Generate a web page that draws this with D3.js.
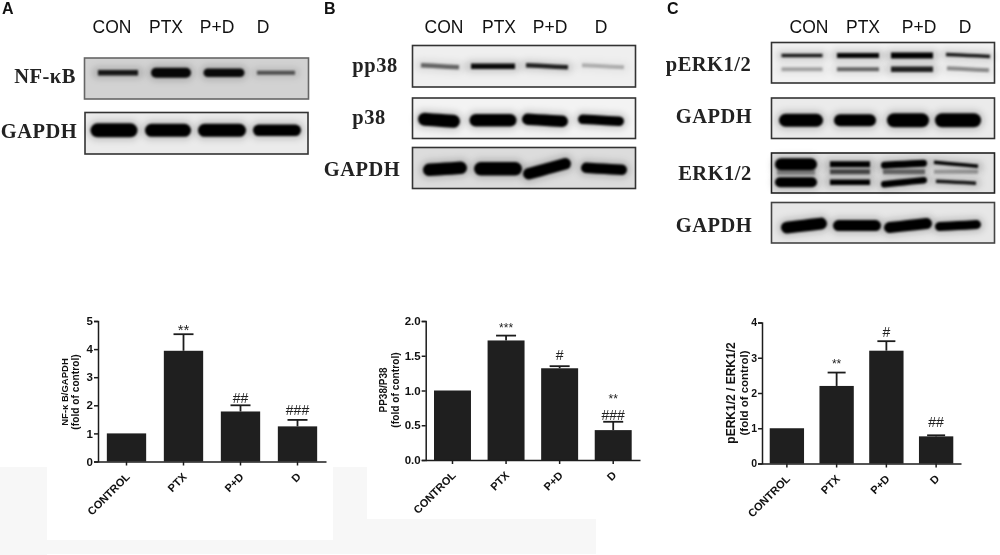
<!DOCTYPE html>
<html><head><meta charset="utf-8">
<style>html,body{margin:0;padding:0;background:#fff}svg{display:block;filter:blur(0.3px)}</style>
<script src="https://cdn.jsdelivr.net/npm/d3@7/dist/d3.min.js"></script>
</head><body><svg id="c" width="1000" height="555"></svg>
<script>
// ---- bar chart data ----
const categories = ["CONTROL","PTX","P+D","D"];
const nfkbValues = [1,3.94,1.78,1.25];
const nfkbErrors = [0,0.59,0.22,0.23];
const nfkbMarks  = [[],["**"],["##"],["###"]];
const p38Values  = [1,1.72,1.32,0.43];
const p38Errors  = [0,0.07,0.03,0.12];
const p38Marks   = [[],["***"],["#"],["###","**"]];
const erkValues  = [1,2.2,3.2,0.77];
const erkErrors  = [0,0.38,0.27,0.03];
const erkMarks   = [[],["**"],["#"],["##"]];
const nfkbTicks = [0,1,2,3,4,5];
const p38Ticks  = [0,0.5,1,1.5,2];
const erkTicks  = [0,1,2,3,4];
// ---- blot labels and band readings (one entry per lane) ----
const laneLabels = ["CON","PTX","P+D","D"];
const bandNF     = [[.88,.97,.95,.6],[5.5,10,8.5,4]];
const bandGA     = [[1,1,1,1],[14,13,13,11.5]];
const bandPP     = [[.55,.95,.85,.25],[4.5,5.5,4.5,4]];
const bandP38    = [[1,1,1,1],[13,12.5,11.5,9.5]];
const bandGB     = [[1,1,1,1],[12.5,13.5,11.5,10.5]];
const bandPE1    = [[.88,.97,1,.88],[3.5,5,6,3.5]];
const bandPE2    = [[.3,.55,.85,.4],[4,4,5.5,4]];
const bandGC1    = [[1,1,1,1],[13,12,14,14]];
const bandE1     = [[1,1,1,1],[12,6,7,3.5]];
const bandEm     = [[.35,.65,.5,.3],[6,5,5,4]];
const bandE2     = [[1,1,1,.9],[10,5.5,6.5,3.5]];
const bandGC2    = [[1,1,1,1],[12,11,11,9]];

const svg = d3.select("#c");
const defs = svg.append("defs");
defs.append("filter").attr("id","soft").attr("filterUnits","userSpaceOnUse").attr("x",0).attr("y",0).attr("width",1000).attr("height",555)
  .append("feGaussianBlur").attr("stdDeviation",0.9);
defs.append("filter").attr("id","halo").attr("filterUnits","userSpaceOnUse").attr("x",0).attr("y",0).attr("width",1000).attr("height",555)
  .append("feGaussianBlur").attr("stdDeviation",3);

// faint page patches
const patches=[[0,467,47,88],[47,540,286,14],[333,467,34,87],[367,519,229,35]];
svg.selectAll("rect.patch").data(patches).join("rect").attr("class","patch")
  .attr("x",d=>d[0]).attr("y",d=>d[1]).attr("width",d=>d[2]).attr("height",d=>d[3]).attr("fill","#f7f7f7");

// ---- blots ----
function blot(frame,bg,border,centers,rows){
  const [x,y,w,h]=frame;
  const g=svg.append("g");
  g.append("rect").attr("x",x).attr("y",y).attr("width",w).attr("height",h).attr("fill",bg);
  const cx=d3.scaleOrdinal().domain(laneLabels).range(centers);
  const line=d3.line().curve(d3.curveCatmullRom);
  rows.forEach(r=>{
    laneLabels.forEach((l,i)=>{
      const c=cx(l), hw=r.w[i]/2, yy=y+h*r.f, t=(r.tilt?r.tilt[i]:0), sw=r.data[1][i], dk=r.data[0][i];
      const round=sw>6, inset=round?sw/2:0;
      const pts=[[c-hw+inset,yy+t],[c,yy],[c+hw-inset,yy-t]];
      g.append("path").attr("d",line(pts)).attr("fill","none")
        .attr("stroke","#000").attr("stroke-opacity",.16*dk).attr("stroke-width",sw+7).attr("stroke-linecap","round").attr("filter","url(#halo)");
      g.append("path").attr("d",line(pts)).attr("fill","none")
        .attr("stroke","#050505").attr("stroke-opacity",dk).attr("stroke-width",sw)
        .attr("stroke-linecap",round?"round":"butt").attr("filter","url(#soft)");
    });
  });
  g.append("rect").attr("x",x).attr("y",y).attr("width",w).attr("height",h).attr("fill","none").attr("stroke",border).attr("stroke-width",1.6);
}
const cA=[118,171,224,276], cB=[440,493,547,603], cC=[802,858,912,968];
blot([84.5,58,224,41],"#d2d2d2","#666",cA,[{f:.36,data:bandNF,w:[40,40,41,38]}]);
blot([85,112.5,223,41.5],"#ebebeb","#333",[114,168,222,277],[{f:.43,data:bandGA,w:[47,46,48,48]}]);
blot([412.5,45.5,223,41.5],"#efefef","#333",cB,[{f:.5,data:bandPP,w:[38,44,42,42],tilt:[-1,0,-1,-1]}]);
blot([412.5,98,223,40.5],"#f3f3f3","#333",[439,493,545,601],[{f:.55,data:bandP38,w:[42,47,46,46],tilt:[-1,0,-1,-1]}]);
blot([412.5,147.5,223,41],"#dcdcdc","#333",[445,498,547,604],[{f:.52,data:bandGB,w:[44,48,48,46],tilt:[1,0,5,-1]}]);
blot([771.5,42.5,223,40.5],"#f2f2f2","#333",cC,[
  {f:.32,data:bandPE1,w:[41,42,42,44],tilt:[0,0,0,-1]},
  {f:.66,data:bandPE2,w:[41,42,42,42],tilt:[0,0,0,-1]}]);
blot([771.5,98,223,40.5],"#ebebeb","#333",[801,855,908,958],[{f:.55,data:bandGC1,w:[44,42,42,46]}]);
blot([771.5,153,223,40],"#e4e4e4","#222",[796,850,904,956],[
  {f:.47,data:bandEm,w:[38,40,42,44]},
  {f:.28,data:bandE1,w:[42,40,46,44],tilt:[0,0,1,-2]},
  {f:.73,data:bandE2,w:[42,40,46,40],tilt:[0,0,2,-1]}]);
blot([771.5,202.5,223,40.5],"#e7e7e7","#444",[804,857,908,958],[{f:.57,data:bandGC2,w:[46,48,48,46],tilt:[2,0,2,1]}]);

// lane headings
const sans="'Liberation Sans',Arial,sans-serif", serif="'Liberation Serif','Times New Roman',serif";
function heads(xs){
  svg.append("g").selectAll("text").data(laneLabels).join("text").text(d=>d)
    .attr("x",(d,i)=>xs[i]).attr("y",33).attr("text-anchor","middle")
    .attr("font-family",sans).attr("font-size",17.5).attr("fill","#111");
}
heads([112,166,217,263]);heads([444,499,550,601]);heads([809,863,919,965]);
const letters=[["A",2],["B",324],["C",667]];
svg.append("g").selectAll("text").data(letters).join("text").text(d=>d[0]).attr("x",d=>d[1]).attr("y",14)
  .attr("font-family",sans).attr("font-weight",700).attr("font-size",16).attr("fill","#111");
const rowLabels=[["NF-κB",45,83],["GAPDH",39,138],["pp38",375,72],["p38",369,124],["GAPDH",362,176],
  ["pERK1/2",708.5,71],["GAPDH",714,123],["ERK1/2",715,180],["GAPDH",714,232]];
svg.append("g").selectAll("text").data(rowLabels).join("text").text(d=>d[0]).attr("x",d=>d[1]).attr("y",d=>d[2])
  .attr("text-anchor","middle").attr("font-family",serif).attr("font-weight",700).attr("font-size",20.5)
  .attr("letter-spacing",.5).attr("fill","#222");

// ---- bar charts ----
function chart(o){
  const x=d3.scaleBand().domain(categories).range([o.x0,o.x1]).paddingInner(.31).paddingOuter(.155);
  const y=d3.scaleLinear().domain(o.dom).range([o.y0,o.y1]);
  const g=svg.append("g");
  const rows=categories.map((c,i)=>({c,v:o.values[i],e:o.errors[i],m:o.marks[i],lift:o.lifts[i]}));
  const er=g.append("g").selectAll("g").data(rows.filter(d=>d.e>0)).join("g").attr("stroke","#1c1c1c").attr("stroke-width",1.8);
  er.append("line").attr("x1",d=>x(d.c)+x.bandwidth()/2).attr("x2",d=>x(d.c)+x.bandwidth()/2).attr("y1",d=>y(d.v)).attr("y2",d=>y(d.v+d.e));
  er.append("line").attr("x1",d=>x(d.c)+x.bandwidth()/2-o.cap).attr("x2",d=>x(d.c)+x.bandwidth()/2+o.cap).attr("y1",d=>y(d.v+d.e)).attr("y2",d=>y(d.v+d.e));
  g.append("g").selectAll("rect").data(rows).join("rect").attr("x",d=>x(d.c)).attr("width",x.bandwidth())
    .attr("y",d=>y(d.v)).attr("height",d=>y(0)-y(d.v)).attr("fill","#1f1f1f");
  const ax=g.append("g").attr("transform",`translate(${o.x0},0)`).call(d3.axisLeft(y).tickValues(o.ticks).tickSize(4).tickPadding(1).tickFormat(o.fmt));
  const bx=g.append("g").attr("transform",`translate(0,${o.y0})`).call(d3.axisBottom(x).tickSize(4).tickSizeOuter(0));
  [ax,bx].forEach(a=>{a.selectAll("path,line").attr("stroke","#1c1c1c").attr("stroke-width",1.5);});
  ax.selectAll("text").attr("font-family",sans).attr("font-weight",700).attr("font-size",o.tick).attr("fill","#111");
  bx.selectAll("text").attr("font-family",sans).attr("font-weight",700).attr("font-size",o.cat).attr("fill","#111")
    .attr("text-anchor","end").attr("dy",0).attr("y",0)
    .attr("transform","translate(4,16) rotate(-45)");
  o.title.forEach((t,i)=>g.append("text").text(t).attr("text-anchor","middle")
    .attr("transform",`translate(${o.tx[i]},${o.ty}) rotate(-90)`)
    .attr("font-family",sans).attr("font-weight",700).attr("font-size",o.tsize[i]).attr("fill","#111"));
  rows.forEach(d=>d.m.forEach((s,j)=>{
    const star=s[0]==="*", fs=star?o.star:14;
    g.append("text").text(s).attr("x",x(d.c)+x.bandwidth()/2).attr("y",y(d.v+d.e)-d.lift[j])
      .attr("text-anchor","middle").attr("font-family",sans).attr("font-size",fs).attr("fill","#222");
  }));
}
chart({x0:98,x1:326,y0:461.5,y1:321,dom:[0,5],values:nfkbValues,errors:nfkbErrors,marks:nfkbMarks,ticks:nfkbTicks,cap:10,
  lifts:[[],[-1],[2],[5]],fmt:d3.format("d"),tick:11.5,cat:11,title:["NF-κ B/GAPDH","(fold of control)"],tx:[68,79],ty:392,tsize:[9.5,10.2],star:15});
chart({x0:425.7,x1:640,y0:460,y1:321,dom:[0,2],values:p38Values,errors:p38Errors,marks:p38Marks,ticks:p38Ticks,cap:10,
  lifts:[[],[4],[6],[2,19]],fmt:d3.format(".1f"),tick:11.5,cat:11,title:["PP38/P38","(fold of control)"],tx:[387,399],ty:390,tsize:[10,10.2],star:12});
chart({x0:762,x1:961,y0:463.5,y1:322.5,dom:[0,4],values:erkValues,errors:erkErrors,marks:erkMarks,ticks:erkTicks,cap:9,
  lifts:[[],[5],[4],[8]],fmt:d3.format("d"),tick:10.5,cat:11,title:["pERK1/2 / ERK1/2","(fold of control)"],tx:[735,748],ty:393,tsize:[12,11.5],star:12});
</script></body></html>
